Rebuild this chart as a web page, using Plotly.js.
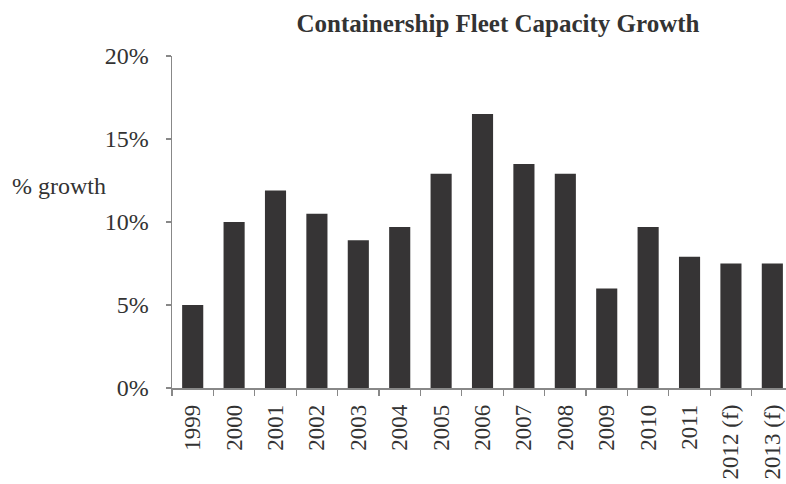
<!DOCTYPE html>
<html>
<head>
<meta charset="utf-8">
<script src="https://cdn.plot.ly/plotly-3.0.1.min.js"></script>
<style>html,body{margin:0;padding:0;overflow:hidden;background:#fff}#chart{width:786px;height:484px}</style>
</head>
<body>
<div id="chart"></div>
<script>
const years = ["1999","2000","2001","2002","2003","2004","2005","2006","2007","2008","2009","2010","2011","2012 (f)","2013 (f)"];
const growthPct = [5.0,10.0,11.9,10.5,8.9,9.7,12.9,16.5,13.5,12.9,6.0,9.7,7.9,7.5,7.5];
const yTicks = [0,5,10,15,20];

const serif = "Liberation Serif, Times New Roman, serif";
const trace = {
  type: "bar",
  x: years,
  y: growthPct,
  marker: {color: "#363435", line: {width: 0}},
  hoverinfo: "skip"
};
const layout = {
  width: 786, height: 484,
  margin: {l: 172, r: 0, t: 56, b: 96, pad: 0},
  paper_bgcolor: "#fff", plot_bgcolor: "#fff",
  bargap: 0.49,
  showlegend: false,
  title: {text: "<b>Containership Fleet Capacity Growth</b>", x: 498/786, xanchor: "center", y: 1 - 23/484, yanchor: "middle",
          font: {family: serif, size: 25, color: "#333"}},
  xaxis: {
    type: "category",
    range: [-0.5, 14.33],
    showline: true, linecolor: "#888", linewidth: 1.5,
    ticks: "outside", ticklen: 6, tickcolor: "#888", tickwidth: 1.2,
    tickson: "boundaries",
    tickangle: -90,
    ticklabelstandoff: 6,
    tickfont: {family: serif, size: 23, color: "#333"},
    showgrid: false, zeroline: false, fixedrange: true
  },
  yaxis: {
    range: [0, 20],
    tickvals: yTicks,
    ticktext: yTicks.map(v => v + "%"),
    showline: true, linecolor: "#888", linewidth: 1.5,
    ticks: "outside", ticklen: 5, tickcolor: "#888", tickwidth: 1.2,
    ticklabelstandoff: 12,
    tickfont: {family: serif, size: 24, color: "#333"},
    showgrid: false, zeroline: false, fixedrange: true
  },
  annotations: [{
    text: "% growth", xref: "paper", yref: "paper",
    x: -162/614, y: (388 - 186) / 332, xanchor: "left", yanchor: "middle",
    showarrow: false, font: {family: serif, size: 24, color: "#333"}
  }]
};
Plotly.newPlot("chart", [trace], layout, {displayModeBar: false, staticPlot: true});
</script>
</body>
</html>
